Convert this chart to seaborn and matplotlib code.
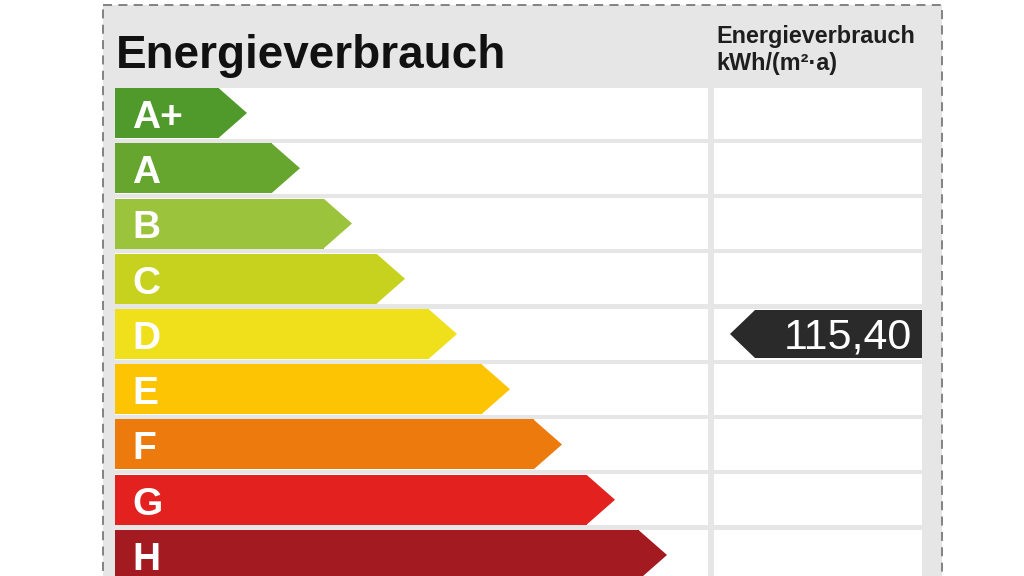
import matplotlib
matplotlib.use("Agg")
import matplotlib.pyplot as plt
from matplotlib.patches import Rectangle, Polygon
import seaborn as sns
import pandas as pd

# Energieklassen und Pfeillaengen (Pixel bis zur Spitze)
klassen = ["A+", "A", "B", "C", "D", "E", "F", "G", "H"]
pfeil_laenge = [132, 185, 237, 290, 342, 395, 447, 500, 552]
farben = ["#4f9a2b", "#66a62e", "#9bc33c", "#c6d21e", "#f0e01c",
          "#fcc403", "#ec7a0d", "#e3221f", "#a31b20"]
verbrauch = "115,40"
verbrauch_klasse = "D"
titel = "Energieverbrauch"
spalte_titel = ["Energieverbrauch", "kWh/(m²·a)"]

SPITZE = 28
X0 = 115
ROW0 = 113
PITCH = 55.25


def py(y):
    return (y - ROW0) / PITCH


def px(x):
    return x - X0


sns.set_theme(style="white")
plt.rcParams["font.family"] = ["Liberation Sans", "DejaVu Sans"]

df = pd.DataFrame({"klasse": klassen,
                   "koerper": [l - SPITZE for l in pfeil_laenge]})

fig = plt.figure(figsize=(10.24, 5.76), dpi=100)
ax = fig.add_axes([0, 0, 1, 1])

# Rahmen und Hintergrund
ax.add_patch(Rectangle((px(103), py(5)), 839, (600 - 5) / PITCH, facecolor="#e6e6e6",
                       edgecolor="#7a7a7a", lw=1.3, ls=(0, (5, 3.5)), zorder=0.1))
hoehe = 51 / PITCH
for i in range(len(klassen)):
    ax.add_patch(Rectangle((px(115), i - hoehe / 2), 708 - 115, hoehe,
                           facecolor="white", edgecolor="none", zorder=0.2))
    ax.add_patch(Rectangle((px(714), i - hoehe / 2), 922 - 714, hoehe,
                           facecolor="white", edgecolor="none", zorder=0.2))

sns.barplot(data=df, x="koerper", y="klasse", hue="klasse", palette=farben,
            orient="h", width=50 / PITCH, saturation=1, errorbar=None,
            legend=False, linewidth=0, ax=ax)

for cont, farbe, name in zip(ax.containers, farben, klassen):
    for bar in cont:
        bar.set_zorder(2)
        w = bar.get_x() + bar.get_width()
        y = bar.get_y()
        h = bar.get_height()
        ax.add_patch(Polygon([(w - 0.5, y), (w + SPITZE, y + h / 2), (w - 0.5, y + h)],
                             closed=True, facecolor=farbe, edgecolor="none", zorder=2))
        ax.text(px(132), y + h / 2 + 0.09, name, color="white", fontsize=28,
                fontweight="bold", ha="left", va="center", zorder=3)

# Verbrauchsmarke
k = klassen.index(verbrauch_klasse)
hh = 24 / PITCH
ax.add_patch(Polygon([(px(730), k), (px(755), k - hh), (px(922), k - hh),
                      (px(922), k + hh), (px(755), k + hh)],
                     closed=True, facecolor="#2a2a2a", edgecolor="none", zorder=3))
ax.text(px(912), k + 0.06, verbrauch, color="white", fontsize=31,
        ha="right", va="center", zorder=4)

# Kopfzeile
ax.text(px(116), py(68), titel, fontsize=33, fontweight="bold",
        color="#111111", ha="left", va="baseline")
ax.text(px(716), py(43), spalte_titel[0], fontsize=16.8, fontweight="bold",
        color="#1e1e1e", ha="left", va="baseline")
ax.text(px(716), py(70), spalte_titel[1], fontsize=16.8, fontweight="bold",
        color="#1e1e1e", ha="left", va="baseline")

ax.set_xlim(px(0), px(1024))
ax.set_ylim(py(576), py(0))
ax.axis("off")

fig.savefig("out.png", dpi=100, facecolor="white")
